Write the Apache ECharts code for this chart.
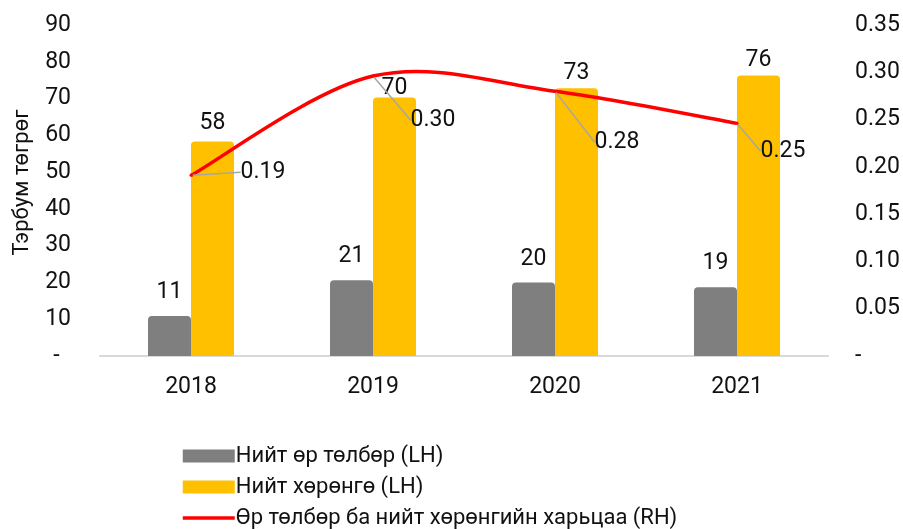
<!DOCTYPE html>
<html>
<head>
<meta charset="utf-8">
<script src="https://cdn.jsdelivr.net/npm/echarts@6/dist/echarts.min.js"></script>
<style>
  html, body { margin: 0; padding: 0; background: #fff; }
  #chart { width: 903px; height: 529px; }
</style>
</head>
<body>
<div id="chart"></div>
<script>
// data
const years = ['2018', '2019', '2020', '2021'];
const liabilities = [10.9, 20.6, 20.0, 18.7];
const assets = [58.3, 70.3, 72.8, 76.3];
const ratio = [0.191, 0.296, 0.28, 0.246];
// label nudges (px), as placed in the original
const assetLabelNudge = [-3, 6, 0, 0];
const ratioLabelShift = [[72, -3], [60, 44], [62, 51], [46, 28]];

const names = [
  'Нийт өр төлбөр (LH)',
  'Нийт хөрөнгө (LH)',
  'Өр төлбөр ба нийт хөрөнгийн харьцаа (RH)'
];

const font = 'Roboto, "Noto Sans", sans-serif';
const txt = '#111';
const red = '#ff0000';

const chart = echarts.init(document.getElementById('chart'), null, { renderer: 'canvas' });

// excel-style smoothed segment (catmull-rom, tension 1/6) drawn through the axes
function renderCurve(params, api) {
  const i = params.dataIndex;
  if (i >= ratio.length - 1) return null;
  const pt = j => {
    const k = Math.max(0, Math.min(ratio.length - 1, j));
    return api.coord([k, ratio[k]]);
  };
  const p0 = pt(i - 1), p1 = pt(i), p2 = pt(i + 1), p3 = pt(i + 2);
  return {
    type: 'bezierCurve',
    shape: {
      x1: p1[0], y1: p1[1],
      cpx1: p1[0] + (p2[0] - p0[0]) / 6, cpy1: p1[1] + (p2[1] - p0[1]) / 6,
      cpx2: p2[0] - (p3[0] - p1[0]) / 6, cpy2: p2[1] - (p3[1] - p1[1]) / 6,
      x2: p2[0], y2: p2[1]
    },
    style: { stroke: red, lineWidth: 3.5, fill: null }
  };
}

chart.setOption({
  animation: false,
  textStyle: { fontFamily: font, color: txt },
  grid: { left: 100, right: 75, top: 25, bottom: 173 },
  legend: {
    orient: 'vertical',
    left: 181,
    top: 445,
    height: 100,
    padding: 0,
    itemWidth: 52,
    itemHeight: 13,
    itemGap: 9,
    textStyle: { fontSize: 22, color: txt, fontFamily: font, padding: [0, 0, 0, -4] },
    data: [
      { name: names[0], icon: 'rect' },
      { name: names[1], icon: 'rect' },
      { name: names[2], itemStyle: { opacity: 0 }, lineStyle: { color: red, width: 3.5, opacity: 1 } }
    ]
  },
  xAxis: {
    type: 'category',
    data: years,
    axisLine: { lineStyle: { color: '#d9d9d9', width: 2 } },
    axisTick: { show: false },
    axisLabel: { fontSize: 23, color: txt, margin: 20 }
  },
  yAxis: [
    {
      type: 'value',
      min: 0,
      max: 90,
      interval: 10,
      name: 'Тэрбум төгрөг',
      nameLocation: 'middle',
      nameGap: 67,
      nameTextStyle: { fontSize: 22, color: txt, padding: [0, 0, 0, 16] },
      splitLine: { show: false },
      axisLine: { show: false },
      axisTick: { show: false },
      axisLabel: {
        fontSize: 23, color: txt, margin: 29,
        formatter: v => (v === 0 ? '-  ' : String(v))
      }
    },
    {
      type: 'value',
      min: 0,
      max: 0.35,
      interval: 0.05,
      splitLine: { show: false },
      axisLine: { show: false },
      axisTick: { show: false },
      axisLabel: {
        fontSize: 23, color: txt, margin: 27,
        formatter: v => (v === 0 ? '-' : v.toFixed(2))
      }
    }
  ],
  series: [
    {
      name: names[0],
      type: 'bar',
      data: liabilities,
      barWidth: 43,
      barGap: '0%',
      itemStyle: { color: '#7f7f7f', borderRadius: [4, 4, 0, 0] },
      label: {
        show: true, position: 'top', distance: 12,
        fontSize: 23, color: txt,
        formatter: p => Math.round(p.value)
      }
    },
    {
      name: names[1],
      type: 'bar',
      data: assets.map((v, i) => ({ value: v, label: { offset: [0, assetLabelNudge[i]] } })),
      barWidth: 43,
      barGap: '0%',
      itemStyle: { color: '#ffc000', borderRadius: [4, 4, 0, 0] },
      label: {
        show: true, position: 'top', distance: 4,
        fontSize: 23, color: txt,
        formatter: p => Math.round(p.value)
      }
    },
    {
      name: 'curve',
      type: 'custom',
      yAxisIndex: 1,
      data: ratio,
      renderItem: renderCurve,
      silent: true,
      z: 4
    },
    {
      name: names[2],
      type: 'line',
      yAxisIndex: 1,
      data: ratio,
      symbol: 'circle',
      symbolSize: 3,
      itemStyle: { color: red },
      lineStyle: { color: red, width: 3.5, opacity: 0 },
      label: {
        show: true, position: 'inside',
        fontSize: 23, color: txt,
        formatter: p => p.value.toFixed(2)
      },
      labelLine: { show: true, lineStyle: { color: '#a6a6a6', width: 1.5 } },
      labelLayout: p => ({ dx: ratioLabelShift[p.dataIndex][0], dy: ratioLabelShift[p.dataIndex][1] }),
      z: 5
    }
  ]
});
</script>
</body>
</html>
